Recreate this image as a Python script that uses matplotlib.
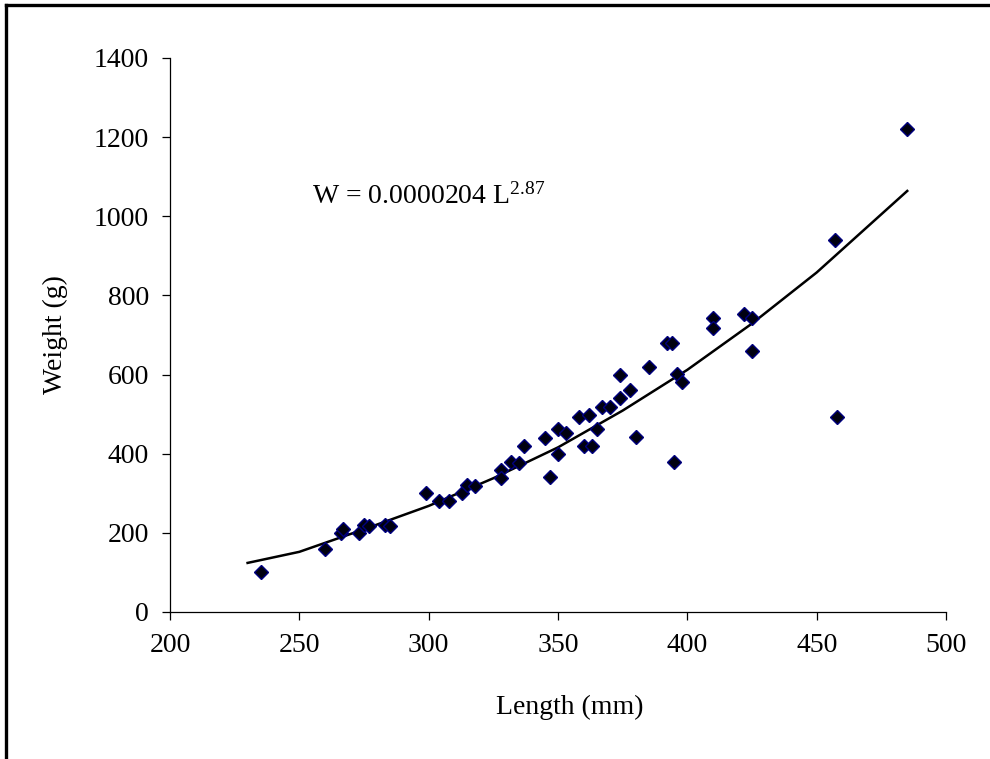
import matplotlib
matplotlib.use("Agg")
import matplotlib.pyplot as plt
from matplotlib.lines import Line2D

# observed fish length (mm) and weight (g)
length_mm = [235, 260, 266, 267, 273, 275, 277, 283, 285, 299,
             304, 308, 313, 315, 318, 328, 328, 332, 335, 337,
             345, 347, 350, 350, 353, 358, 362, 360, 363, 365,
             367, 370, 374, 374, 378, 380, 385, 392, 394, 395,
             396, 398, 410, 410, 422, 425, 425, 457, 458, 485]
weight_g = [100, 160, 200, 210, 200, 220, 218, 220, 218, 300,
            280, 280, 300, 320, 318, 360, 338, 380, 377, 420,
            440, 340, 462, 400, 452, 494, 498, 420, 420, 462,
            519, 519, 540, 600, 561, 443, 620, 679, 679, 378,
            601, 580, 742, 718, 753, 742, 660, 940, 493, 1221]

# power trend line as drawn on the chart
fit_length = [230, 250, 275, 300, 325, 350, 375, 400, 425, 450, 485]
fit_weight = [124, 152, 209, 268, 338, 416, 509, 612, 729, 858, 1064]

x_ticks = [200, 250, 300, 350, 400, 450, 500]
y_ticks = [0, 200, 400, 600, 800, 1000, 1200, 1400]

plt.rcParams.update({
    "font.family": ["Liberation Serif", "DejaVu Serif"],
    "mathtext.fontset": "custom",
    "mathtext.rm": "Liberation Serif",
    "mathtext.it": "Liberation Serif:italic",
})

fig = plt.figure(figsize=(9.9, 7.59), dpi=100)
ax = fig.add_axes([0.1717, 0.1937, 0.7839, 0.7299])

ax.plot(fit_length, fit_weight, color="black", linewidth=1.8, zorder=2)
ax.plot(length_mm, weight_g, linestyle="none", marker="D", markersize=7,
        markerfacecolor="#000010", markeredgecolor="#000080",
        markeredgewidth=1.0, zorder=3)

ax.set_xlim(200, 500)
ax.set_ylim(0, 1400)
ax.set_xticks(x_ticks)
ax.set_yticks(y_ticks)
ax.tick_params(direction="out", length=6, width=0.9, labelsize=20, colors="black")
ax.tick_params(axis="y", pad=9)
ax.tick_params(axis="x", pad=9)
for side in ["top", "right"]:
    ax.spines[side].set_visible(False)
for side in ["left", "bottom"]:
    ax.spines[side].set_linewidth(0.9)

ax.set_xlabel("Length (mm)", fontsize=20)
ax.set_ylabel("Weight (g)", fontsize=20)
ax.xaxis.set_label_coords((570 - 170) / 776, -0.150)
ax.yaxis.set_label_coords(-0.132, 0.5)

ax.text(255, 1033, r"W = 0.0000204 L$^{\mathrm{2.87}}$", fontsize=20,
        ha="left", va="baseline")

# outer frame (only top and left edges visible)
fig.add_artist(Line2D([0.006, 0.006], [0.0, 0.993], transform=fig.transFigure,
                      color="black", linewidth=2.4))
fig.add_artist(Line2D([0.006, 1.0], [0.993, 0.993], transform=fig.transFigure,
                      color="black", linewidth=2.4))

fig.savefig("out.png", dpi=100)
